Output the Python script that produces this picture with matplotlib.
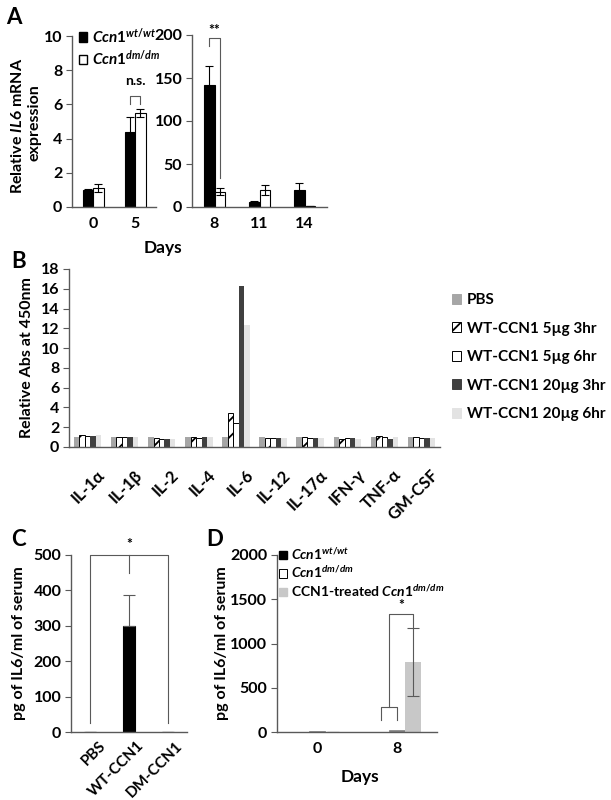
import matplotlib
matplotlib.use("Agg")
import matplotlib.pyplot as plt
import numpy as np
from matplotlib.patches import Patch
from matplotlib.transforms import ScaledTranslation

plt.rcParams['font.family'] = ['Lato', 'DejaVu Sans']
plt.rcParams['font.weight'] = 'bold'
plt.rcParams['mathtext.fontset'] = 'custom'
plt.rcParams['mathtext.rm'] = 'Lato:bold'
plt.rcParams['mathtext.it'] = 'Lato:bold:italic'
plt.rcParams['mathtext.bf'] = 'Lato:bold'
plt.rcParams['hatch.linewidth'] = 1.3

# ---------------- data ----------------
# Panel A
a_days_left = ['0', '5']
a_wt_left = [1.0, 4.4]
a_wt_left_err = [0.05, 0.85]
a_dm_left = [1.1, 5.5]
a_dm_left_err = [0.25, 0.22]
a_days_right = ['8', '11', '14']
a_wt_right = [142, 6, 20]
a_wt_right_err = [22, 1.5, 8]
a_dm_right = [18, 20, 1]
a_dm_right_err = [4, 5.5, 0]

# Panel B
b_cytokines = ['IL-1α', 'IL-1β', 'IL-2', 'IL-4', 'IL-6', 'IL-12', 'IL-17α', 'IFN-γ', 'TNF-α', 'GM-CSF']
b_series = ['PBS', 'WT-CCN1 5µg 3hr', 'WT-CCN1 5µg 6hr', 'WT-CCN1 20µg 3hr', 'WT-CCN1 20µg 6hr']
b_pbs = [1.0, 1.0, 1.0, 1.0, 1.0, 1.0, 1.0, 1.0, 1.0, 1.0]
b_5ug_3hr = [1.25, 1.05, 0.9, 1.05, 3.4, 0.95, 1.05, 0.8, 1.1, 1.05]
b_5ug_6hr = [1.15, 1.05, 0.85, 0.95, 2.4, 0.95, 0.95, 0.9, 1.05, 0.95]
b_20ug_3hr = [1.1, 1.0, 0.85, 1.05, 16.3, 0.95, 0.95, 0.95, 0.85, 0.95]
b_20ug_6hr = [1.2, 1.05, 0.8, 1.0, 12.3, 0.95, 0.95, 0.8, 1.0, 0.95]

# Panel C
c_groups = ['PBS', 'WT-CCN1', 'DM-CCN1']
c_values = [0, 300, 0]
c_err = [0, 88, 0]

# Panel D
d_days = ['0', '8']
d_wt = [5, 5]
d_dm = [8, 20]
d_treated = [0, 790]
d_treated_err = [0, 380]

# ---------------- figure ----------------
W, H = 611, 800
fig = plt.figure(figsize=(W / 100, H / 100), dpi=100)
AX_COL = '#595959'
TICK_FS = 11.5
LAB_FS = 11.5


def ax_px(x0, x1, ytop, ybot):
    return fig.add_axes([x0 / W, 1 - ybot / H, (x1 - x0) / W, (ybot - ytop) / H])


def style(ax, fs=TICK_FS):
    for s in ['top', 'right']:
        ax.spines[s].set_visible(False)
    for s in ['left', 'bottom']:
        ax.spines[s].set_color(AX_COL)
        ax.spines[s].set_linewidth(1.0)
    ax.tick_params(axis='y', direction='out', length=4, width=0.8, color=AX_COL,
                   labelsize=fs, pad=3)
    ax.tick_params(axis='x', length=0, labelsize=fs, pad=7)


def ftext(x, y, s, **kw):
    return fig.text(x / W, 1 - y / H, s, **kw)


# ---------------- Panel A ----------------
axL = ax_px(72, 156, 36, 207)
style(axL)
xl = np.arange(len(a_days_left))
bw = 0.25
ekA = dict(ecolor='black', elinewidth=0.8, capsize=3, capthick=0.8)
axL.bar(xl - bw / 2, a_wt_left, bw, color='black', edgecolor='black', linewidth=0.8,
        yerr=a_wt_left_err, error_kw=ekA)
axL.bar(xl + bw / 2, a_dm_left, bw, color='white', edgecolor='black', linewidth=0.8,
        yerr=a_dm_left_err, error_kw=ekA)
axL.set_xlim(-0.5, 1.5)
axL.set_ylim(0, 10)
axL.set_yticks([0, 2, 4, 6, 8, 10])
axL.set_xticks(xl)
axL.set_xticklabels(a_days_left)
x1, x2 = xl[1] - bw / 2, xl[1] + bw / 2
axL.plot([x1, x1, x2, x2], [6.05, 6.5, 6.5, 6.05], color=AX_COL, lw=0.8)
axL.text(xl[1], 7.0, 'n.s.', ha='center', va='bottom', fontsize=10)
axL.legend(handles=[Patch(facecolor='black', edgecolor='black'),
                    Patch(facecolor='white', edgecolor='black')],
           labels=[r'$\mathit{Ccn1}^{\mathit{wt/wt}}$', r'$\mathit{Ccn1}^{\mathit{dm/dm}}$'],
           loc='upper left', bbox_to_anchor=(0.08, 1.06), frameon=False, fontsize=11,
           handlelength=0.55, handleheight=0.55, handletextpad=0.35, labelspacing=0.15,
           borderaxespad=0, borderpad=0)

axR = ax_px(192, 327, 35, 207)
style(axR)
xr = np.arange(len(a_days_right))
bw2 = 0.244
axR.bar(xr - bw2 / 2, a_wt_right, bw2, color='black', edgecolor='black', linewidth=0.8,
        yerr=a_wt_right_err, error_kw=ekA)
axR.bar(xr + bw2 / 2, a_dm_right, bw2, color='white', edgecolor='black', linewidth=0.8,
        yerr=a_dm_right_err, error_kw=ekA)
axR.set_xlim(-0.5, 2.5)
axR.set_ylim(0, 200)
axR.set_yticks([0, 50, 100, 150, 200])
axR.set_xticks(xr)
axR.set_xticklabels(a_days_right)
x1, x2 = xr[0] - bw2 / 2, xr[0] + bw2 / 2
axR.plot([x1, x1, x2, x2], [187, 197, 197, 34], color=AX_COL, lw=0.8, clip_on=False)
axR.text(xr[0], 199, '**', ha='center', va='bottom', fontsize=10, clip_on=False)

ftext(14, 17, 'A', fontsize=16, ha='center', va='center')
ftext(18, 126, r'Relative $\mathit{IL6}$ mRNA', fontsize=LAB_FS, rotation=90, ha='center', va='center')
ftext(34, 123, 'expression', fontsize=LAB_FS, rotation=90, ha='center', va='center')
ftext(163, 248, 'Days', fontsize=12.5, ha='center', va='center')

# ---------------- Panel B ----------------
axB = ax_px(69, 440, 269, 447)
style(axB)
xb = np.arange(len(b_cytokines))
bwb = 0.148
b_vals = [b_pbs, b_5ug_3hr, b_5ug_6hr, b_20ug_3hr, b_20ug_6hr]
b_face = ['#a6a6a6', 'white', 'white', '#404040', '#e3e3e3']
b_edge = ['none', 'black', 'black', 'none', 'none']
b_hatch = [None, '//', None, None, None]
handles = []
for i, (vals, fc, ec, ht) in enumerate(zip(b_vals, b_face, b_edge, b_hatch)):
    axB.bar(xb + (i - 2) * bwb, vals, bwb, color=fc, edgecolor=ec, hatch=ht,
            linewidth=0.7 if ec != 'none' else 0)
    handles.append(Patch(facecolor=fc, edgecolor=ec if ec != 'none' else fc, hatch=ht,
                         linewidth=0.7))
axB.set_xlim(-0.5, 9.5)
axB.set_ylim(0, 18)
axB.set_yticks(range(0, 19, 2))
axB.set_xticks(xb)
axB.set_xticklabels(b_cytokines, rotation=45, ha='right', rotation_mode='anchor', fontsize=12)
for lab in axB.get_xticklabels():
    lab.set_transform(lab.get_transform() + ScaledTranslation(0.09, -0.1, fig.dpi_scale_trans))
fig.legend(handles=handles, labels=b_series, loc='upper left',
           bbox_to_anchor=(452 / W, 1 - 293 / H), frameon=False, fontsize=11,
           handlelength=0.62, handleheight=0.62, handletextpad=0.35, labelspacing=0.95,
           borderaxespad=0, borderpad=0)
ftext(19, 261, 'B', fontsize=16, ha='center', va='center')
ftext(27, 358, 'Relative Abs at 450nm', fontsize=LAB_FS, rotation=90, ha='center', va='center')

# ---------------- Panel C ----------------
axC = ax_px(71, 187, 555, 732)
style(axC)
xc = np.arange(len(c_groups))
axC.bar(xc, c_values, 0.3, color='black', edgecolor='black', linewidth=0.8,
        yerr=[[0, 0, 0], c_err],
        error_kw=dict(ecolor=AX_COL, elinewidth=0.8, capsize=4, capthick=0.8))
axC.set_xlim(-0.5, 2.5)
axC.set_ylim(0, 500)
axC.set_yticks(range(0, 501, 100))
axC.set_xticks(xc)
axC.set_xticklabels(c_groups, rotation=45, ha='right', rotation_mode='anchor', fontsize=11)
for lab in axC.get_xticklabels():
    lab.set_transform(lab.get_transform() + ScaledTranslation(0.08, 0.03, fig.dpi_scale_trans))
axC.plot([xc[0], xc[0], xc[2], xc[2]], [25, 500, 500, 25], color=AX_COL, lw=0.8, clip_on=False)
axC.plot([xc[1], xc[1]], [500, 450], color=AX_COL, lw=0.8, clip_on=False)
axC.text(xc[1], 515, '*', ha='center', va='bottom', fontsize=10)
ftext(18, 540, 'C', fontsize=16, ha='center', va='center')
ftext(19, 643, 'pg of IL6/ml of serum', fontsize=LAB_FS, rotation=90, ha='center', va='center')

# ---------------- Panel D ----------------
axD = ax_px(277, 437, 555, 732)
style(axD)
xd = np.arange(len(d_days))
bwd = 0.2
ekw = dict(ecolor=AX_COL, elinewidth=0.8, capsize=4, capthick=0.8)
axD.bar(xd - bwd, d_wt, bwd, color='black', edgecolor='black', linewidth=0.5)
axD.bar(xd, d_dm, bwd, color='#808080', edgecolor='#808080', linewidth=0.5)
axD.bar(xd + bwd, d_treated, bwd, color='#c8c8c8', edgecolor='none',
        yerr=d_treated_err, error_kw=ekw)
axD.set_xlim(-0.5, 1.5)
axD.set_ylim(0, 2000)
axD.set_yticks(range(0, 2001, 500))
axD.set_xticks(xd)
axD.set_xticklabels(d_days)
xa, xb2 = xd[1] - bwd, xd[1]
xm = (xa + xb2) / 2
axD.plot([xa, xa, xb2, xb2], [135, 280, 280, 135], color=AX_COL, lw=0.8)
axD.plot([xm, xm, xd[1] + bwd, xd[1] + bwd], [280, 1330, 1330, 1175], color=AX_COL, lw=0.8)
axD.text((xm + xd[1] + bwd) / 2, 1370, '*', ha='center', va='bottom', fontsize=10)
axD.legend(handles=[Patch(facecolor='black', edgecolor='black'),
                    Patch(facecolor='white', edgecolor='black', linewidth=0.7),
                    Patch(facecolor='#c8c8c8', edgecolor='#c8c8c8')],
           labels=[r'$\mathit{Ccn1}^{\mathit{wt/wt}}$', r'$\mathit{Ccn1}^{\mathit{dm/dm}}$',
                   r'CCN1-treated $\mathit{Ccn1}^{\mathit{dm/dm}}$'],
           loc='upper left', bbox_to_anchor=(0.015, 1.05), frameon=False, fontsize=10,
           handlelength=0.55, handleheight=0.55, handletextpad=0.3, labelspacing=0.18,
           borderaxespad=0, borderpad=0)
ftext(215, 540, 'D', fontsize=16, ha='center', va='center')
ftext(222, 643, 'pg of IL6/ml of serum', fontsize=LAB_FS, rotation=90, ha='center', va='center')
ftext(360, 777, 'Days', fontsize=12.5, ha='center', va='center')

fig.savefig('out.png', dpi=100)
